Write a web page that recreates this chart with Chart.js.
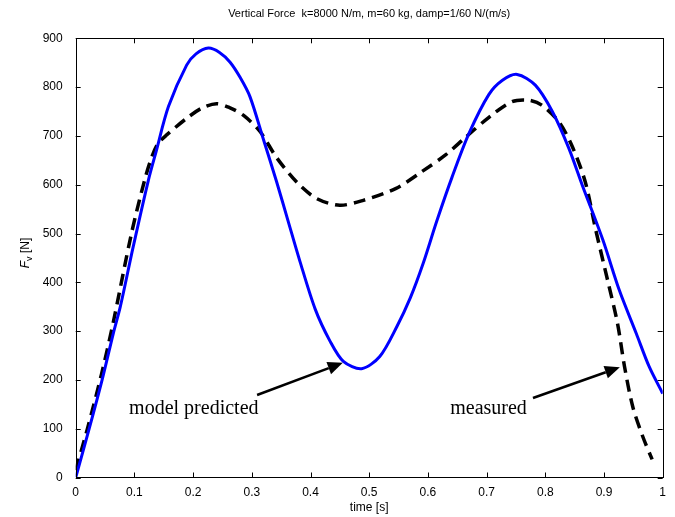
<!DOCTYPE html>
<html>
<head>
<meta charset="utf-8">
<script src="https://cdn.jsdelivr.net/npm/chart.js@4/dist/chart.umd.min.js"></script>
<style>
  html, body { margin: 0; padding: 0; background: #fff; }
  #wrap { width: 675px; height: 517px; }
</style>
</head>
<body>
<div id="wrap"><canvas id="force"></canvas></div>
<script>
// model predicted (blue) - time [s], force [N]
const modelT = [0, 0.023, 0.045, 0.064, 0.076, 0.098, 0.124, 0.137, 0.158, 0.189, 0.205, 0.226, 0.245, 0.263,
    0.28, 0.297, 0.32, 0.342, 0.362, 0.382, 0.408, 0.433, 0.456, 0.487, 0.518, 0.547, 0.57, 0.592, 0.615,
    0.641, 0.67, 0.704, 0.727, 0.752, 0.783, 0.812, 0.84, 0.863, 0.898, 0.926, 0.955, 0.977, 1.0];
const modelF = [0, 100, 200, 295, 350, 473, 610, 668, 760, 845, 868, 880, 871, 851,
    820, 780, 692, 607, 525, 443, 345, 280, 238, 223, 248, 309, 368, 439, 525,
    615, 705, 785, 814, 826, 804, 750, 675, 599, 487, 384, 295, 227, 172];

// measured (black dashed)
const measT = [0, 0.02, 0.044, 0.064, 0.095, 0.118, 0.13, 0.14, 0.155, 0.189, 0.215, 0.24, 0.262,
    0.286, 0.314, 0.342, 0.376, 0.41, 0.45, 0.49, 0.545, 0.59, 0.63, 0.664, 0.704, 0.743, 0.772, 0.794,
    0.823, 0.845, 0.868, 0.886, 0.906, 0.923, 0.935, 0.949, 0.966, 0.982];
const measF = [15, 100, 212, 318, 500, 612, 658, 684, 702, 736, 757, 766, 758,
    742, 709, 656, 606, 572, 558, 568, 592, 627, 661, 697, 738, 770, 773, 763,
    729, 681, 606, 507, 405, 316, 227, 145, 84, 37];

const xTicks = [0, 0.1, 0.2, 0.3, 0.4, 0.5, 0.6, 0.7, 0.8, 0.9, 1];
const yTicks = [0, 100, 200, 300, 400, 500, 600, 700, 800, 900];

// text labels with arrows (data coords)
const notes = [
    { text: 'model predicted', tx: 0.091, ty: 130, align: 'left', from: [0.309, 169], to: [0.455, 235] },
    { text: 'measured', tx: 0.638, ty: 130, align: 'left', from: [0.779, 163], to: [0.927, 226] }
];

const toPts = (xs, ys) => xs.map((x, i) => ({ x: x, y: ys[i] }));

Chart.defaults.color = '#000';
Chart.defaults.font.family = '"Liberation Sans", Arial, sans-serif';
Chart.defaults.font.size = 12;

// matlab style box with inward ticks, title, y label, annotations
const matlabBox = {
    id: 'matlabBox',
    afterDraw(chart) {
        const { ctx, chartArea: a, scales } = chart;
        const x = scales.x, y = scales.y;
        ctx.save();
        ctx.strokeStyle = '#000';
        ctx.lineWidth = 1;
        ctx.beginPath();
        xTicks.forEach(v => {
            const px = Math.round(x.getPixelForValue(v)) + 0.5;
            ctx.moveTo(px, a.bottom); ctx.lineTo(px, a.bottom - 5);
            ctx.moveTo(px, a.top); ctx.lineTo(px, a.top + 5);
        });
        yTicks.forEach(v => {
            const py = Math.round(y.getPixelForValue(v)) + 0.5;
            ctx.moveTo(a.left, py); ctx.lineTo(a.left + 5, py);
            ctx.moveTo(a.right, py); ctx.lineTo(a.right - 5, py);
        });
        ctx.stroke();
        ctx.strokeRect(Math.round(a.left) + 0.5, Math.round(a.top) + 0.5,
            Math.round(a.right - a.left), Math.round(a.bottom - a.top));

        // title
        ctx.fillStyle = '#000';
        ctx.font = '11px "Liberation Sans", Arial, sans-serif';
        ctx.textAlign = 'center';
        ctx.textBaseline = 'middle';
        ctx.fillText('Vertical Force  k=8000 N/m, m=60 kg, damp=1/60 N/(m/s)', (a.left + a.right) / 2, 14);

        // y label F_v [N]
        ctx.save();
        ctx.translate(30, 253);
        ctx.rotate(-Math.PI / 2);
        ctx.textBaseline = 'alphabetic';
        ctx.textAlign = 'left';
        const fMain = 'italic 12px "Liberation Sans", Arial, sans-serif';
        const fSub = '9px "Liberation Sans", Arial, sans-serif';
        const fTail = '12px "Liberation Sans", Arial, sans-serif';
        ctx.font = fMain; const w1 = ctx.measureText('F').width;
        ctx.font = fSub; const w2 = ctx.measureText('v').width;
        ctx.font = fTail; const w3 = ctx.measureText(' [N]').width;
        let sx = -(w1 + w2 + w3) / 2;
        ctx.font = fMain; ctx.fillText('F', sx, -1); sx += w1;
        ctx.font = fSub; ctx.fillText('v', sx, 2); sx += w2;
        ctx.font = fTail; ctx.fillText(' [N]', sx, -1);
        ctx.restore();

        // annotations
        notes.forEach(n => {
            ctx.font = '20px "Liberation Serif", "Times New Roman", serif';
            ctx.textAlign = n.align;
            ctx.textBaseline = 'alphabetic';
            ctx.fillText(n.text, x.getPixelForValue(n.tx), y.getPixelForValue(n.ty));

            const x0 = x.getPixelForValue(n.from[0]), y0 = y.getPixelForValue(n.from[1]);
            const x1 = x.getPixelForValue(n.to[0]), y1 = y.getPixelForValue(n.to[1]);
            const ang = Math.atan2(y1 - y0, x1 - x0);
            const hl = 15, hw = 6.5;
            const bx = x1 - hl * Math.cos(ang), by = y1 - hl * Math.sin(ang);
            ctx.lineWidth = 2.5;
            ctx.beginPath();
            ctx.moveTo(x0, y0); ctx.lineTo(bx, by);
            ctx.stroke();
            ctx.beginPath();
            ctx.moveTo(x1, y1);
            ctx.lineTo(bx + hw * Math.sin(ang), by - hw * Math.cos(ang));
            ctx.lineTo(bx - hw * Math.sin(ang), by + hw * Math.cos(ang));
            ctx.closePath();
            ctx.fill();
        });
        ctx.restore();
    }
};

new Chart(document.getElementById('force'), {
    type: 'line',
    data: {
        datasets: [
            {
                label: 'model predicted',
                data: toPts(modelT, modelF),
                borderColor: '#0000ff',
                borderWidth: 3,
                pointRadius: 0,
                tension: 0.3,
                fill: false
            },
            {
                label: 'measured',
                data: toPts(measT, measF),
                borderColor: '#000',
                borderWidth: 3.5,
                borderDash: [12, 7],
                pointRadius: 0,
                tension: 0.3,
                fill: false
            }
        ]
    },
    options: {
        responsive: true,
        maintainAspectRatio: false,
        animation: false,
        events: [],
        layout: { padding: { top: 38.3, right: 12.3, left: 0, bottom: 0 } },
        plugins: {
            legend: { display: false },
            tooltip: { enabled: false }
        },
        scales: {
            x: {
                type: 'linear',
                min: 0,
                max: 1,
                afterBuildTicks: s => { s.ticks = xTicks.map(v => ({ value: v })); },
                afterFit: s => { s.height = 39.5; },
                ticks: { padding: 0, maxRotation: 0, callback: v => String(v) },
                grid: { display: false },
                border: { display: false },
                title: { display: true, text: 'time [s]', font: { size: 12 }, padding: { top: 0, bottom: 2 } }
            },
            y: {
                type: 'linear',
                min: 0,
                max: 900,
                afterBuildTicks: s => { s.ticks = yTicks.map(v => ({ value: v })); },
                afterFit: s => { s.width = 75.7; },
                ticks: { padding: 5, callback: v => String(v) },
                grid: { display: false },
                border: { display: false }
            }
        }
    },
    plugins: [matlabBox]
});
</script>
</body>
</html>
